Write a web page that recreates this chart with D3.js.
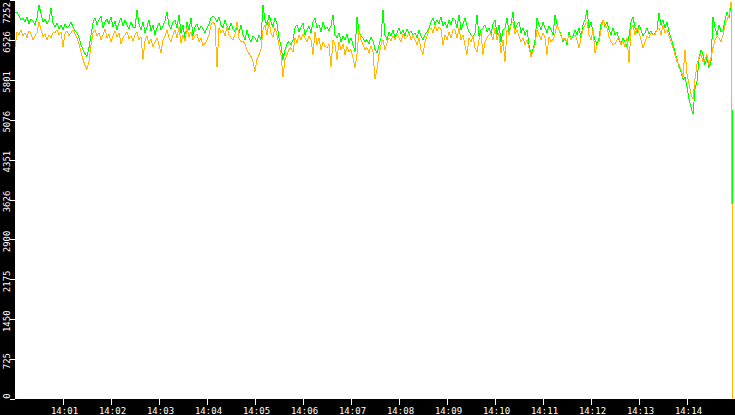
<!DOCTYPE html>
<html>
<head>
<meta charset="utf-8">
<script src="https://cdn.jsdelivr.net/npm/d3@7"></script>
<style>
  html, body { margin: 0; padding: 0; background: #000; }
  svg { display: block; }
</style>
</head>
<body>
<div id="chart"></div>
<script>
// muestreo: una lectura cada 2.5 s desde las 14:00:00
var startTime = "2000-01-01T14:00:00";
var stepSeconds = 2.5;
var endTime = "2000-01-01T14:15:00";

// serie verde
var greenValues = [
  7016,7034,6962,6890,6926,6854,6944,6818,6908,6872,6800,6926,7160,6998,6854,6908,6818,6890,7106,6836,
  6764,6836,6728,6800,6710,6818,6746,6782,6854,6764,6692,6656,6566,6440,6350,6278,6224,6386,6620,6836,
  6926,6800,6890,6962,6746,6854,6908,6818,6944,6764,6872,6710,6836,6926,6782,6890,6800,6728,6854,6764,
  6746,7070,6818,6710,6854,6656,6764,6890,6692,6800,6620,6746,6836,6710,6782,6872,7034,6800,6728,6854,
  6890,6746,6980,6656,6800,6530,6854,6710,6926,6602,6764,6818,6710,6782,6728,6656,6746,6818,6926,6962,
  6926,6854,6944,6800,6746,6890,6782,6710,6836,6728,6674,6746,6656,6800,6620,6530,6710,6566,6494,6602,
  6566,6494,6620,6530,7160,6890,6800,6980,6854,6764,6926,6818,6566,6422,6170,6350,6458,6494,6440,6530,
  6746,6800,6674,6764,6836,6620,6710,6782,6656,6854,6926,6746,6800,6674,6854,6728,6764,6692,6782,6980,
  6620,6566,6656,6494,6602,6530,6638,6476,6566,6440,6314,6944,6674,6602,6566,6494,6530,6458,6584,6512,
  6350,6296,6440,6566,7070,6620,6530,6674,6602,6710,6566,6656,6746,6638,6710,6602,6728,6656,6692,6620,
  6656,6566,6710,6602,6530,6620,6674,6746,6854,6926,6800,6890,6818,6944,6782,6854,6746,6890,6800,6926,
  6890,6746,6980,6710,6818,6926,6782,6674,6620,6566,6656,6980,6602,6710,6746,6800,6674,6746,6620,6818,
  6890,6620,6800,6494,6710,6746,6926,6674,6818,7034,6710,6800,6854,6656,6746,6620,6710,6440,6260,6350,
  6530,6926,6800,6710,6854,6746,6656,6782,6710,6620,6980,6818,6710,6620,6494,6566,6440,6674,6530,6602,
  6710,6620,6746,6566,6800,6890,7070,6746,6854,6656,6530,6440,6566,6818,6890,6764,6854,6710,6620,6746,
  6620,6674,6530,6440,6566,6494,6404,6602,6854,6944,6746,6656,6800,6710,6602,6656,6746,6638,6692,6620,
  6656,6710,7016,6800,6890,6746,6854,6674,6566,6440,6314,6170,6044,5954,5810,5846,5666,5450,5306,5180,
  5630,5774,6170,6350,6260,6080,6206,6026,6134,6944,6746,6620,6800,6674,6710,6890,7034,6926,7160,
  3350
];

// serie naranja
var orangeValues = [
  6386,6674,6620,6710,6602,6656,6566,6692,6638,6530,6602,6656,6854,6710,6584,6638,6530,6620,6566,6656,
  6656,6710,6620,6674,6404,6638,6692,6602,6656,6710,6638,6566,6458,6314,6170,6062,5990,6134,6440,6656,
  6710,6602,6656,6530,6620,6728,6566,6638,6494,6602,6692,6584,6656,6458,6566,6620,6674,6548,6602,6512,
  6620,6674,6530,6584,6170,6512,6602,6458,6548,6404,6494,6566,6440,6296,6530,6602,6710,6566,6494,6620,
  6710,6566,6764,6476,6620,6512,6746,6584,6674,6530,6602,6638,6494,6566,6422,6458,6530,6620,6800,6854,
  6800,6026,6746,6656,6710,6602,6764,6620,6566,6530,6638,6854,6566,6494,6494,6458,6350,6278,6224,6134,
  5954,6170,6260,6350,6710,6800,6620,6854,6656,6584,6746,6620,6440,6260,5846,6170,6260,6350,6386,6314,
  6566,6476,6620,6530,6638,6566,6494,6602,6530,6260,6674,6440,6566,6350,6494,6404,6386,6440,6044,6530,
  6440,6170,6494,6350,6458,6260,6404,6314,6350,6206,6026,6260,6710,6530,6440,6350,6386,6296,6422,6314,
  5810,5990,6260,6440,6530,6350,6476,6566,6512,6602,6530,6620,6566,6494,6638,6548,6584,6656,6530,6602,
  6530,6440,6566,6350,6260,6494,6602,6710,6746,6656,6782,6692,6764,6710,6440,6620,6530,6674,6566,6710,
  6710,6566,6746,6530,6620,6440,6260,6566,6494,6602,6386,6314,6530,6656,6260,6494,6566,6620,6638,6530,
  6746,6530,6656,6296,6530,6134,6710,6620,6800,6854,6638,6710,6602,6494,6566,6440,6530,6386,6224,6314,
  6440,6710,6620,6530,6656,6566,6260,6584,6494,6530,6638,6800,6710,6602,6530,6566,6494,6620,6530,6584,
  6620,6530,6386,6566,6710,6800,6854,6620,6530,6710,6296,6440,6494,6710,6890,6800,6746,6584,6494,6440,
  6458,6530,6566,6440,6494,6404,6566,6116,6710,6800,6620,6746,6656,6530,6386,6494,6602,6566,6656,6620,
  6620,6710,6746,6620,6800,6656,6710,6602,6494,6386,6260,6134,6080,5990,5846,6350,5900,5720,5540,5450,
  5810,6080,6206,6260,6134,6170,6260,6080,6206,6386,6530,6602,6566,6494,6620,6800,6890,6980,7214,
  0
];

// marcas de los ejes
var yTickValues = [0, 725, 1450, 2175, 2900, 3626, 4351, 5076, 5801, 6526, 7252];
var xTickLabels = ["14:01","14:02","14:03","14:04","14:05","14:06","14:07",
                   "14:08","14:09","14:10","14:11","14:12","14:13","14:14"];

var _b = 735, _h = 415;
var _margen = {arriba: 0, derecha: 0, abajo: 16, izquierda: 15};
var colorVerde = '#00ff00';
var colorNaranja = '#ffb900';
var fuente = '"DejaVu Sans Mono", "Liberation Mono", monospace';

var t0 = new Date(startTime);
function tiempo(i) { return new Date(t0.getTime() + i * stepSeconds * 1000); }

var svg = d3.select("#chart").append("svg")
    .attr("width", _b)
    .attr("height", _h);

svg.append("rect")
    .attr("width", _b).attr("height", _h)
    .attr("fill", "#000");

var x = d3.scaleTime()
    .domain([t0, new Date(endTime)])
    .range([_margen.izquierda, _b - _margen.derecha]);
var y = d3.scaleLinear()
    .domain([0, 7252])
    .range([_h - _margen.abajo, _margen.arriba]);

svg.append("rect")
    .attr("x", _margen.izquierda).attr("y", _margen.arriba)
    .attr("width", _b - _margen.izquierda - _margen.derecha)
    .attr("height", _h - _margen.abajo - _margen.arriba)
    .attr("fill", "#fff");

var linea = d3.line()
    .x(function (d, i) { return x(tiempo(i)); })
    .y(function (d) { return y(d); });

svg.append("path")
    .datum(greenValues)
    .attr("d", linea)
    .attr("fill", "none")
    .attr("stroke", colorVerde)
    .attr("stroke-width", 1)
    .attr("shape-rendering", "crispEdges");

svg.append("path")
    .datum(orangeValues)
    .attr("d", linea)
    .attr("fill", "none")
    .attr("stroke", colorNaranja)
    .attr("stroke-width", 1)
    .attr("shape-rendering", "crispEdges");

// eje y
var ejeY = svg.append("g");
ejeY.selectAll("line").data(yTickValues).enter().append("line")
    .attr("x1", 10).attr("x2", _margen.izquierda)
    .attr("y1", function (d) { return Math.round(y(d)) + 0.5; })
    .attr("y2", function (d) { return Math.round(y(d)) + 0.5; })
    .attr("stroke", "#fff")
    .attr("shape-rendering", "crispEdges");
ejeY.selectAll("text").data(yTickValues).enter().append("text")
    .attr("transform", function (d) {
        var c = Math.max(13, Math.min(396, y(d) + 2));
        return "translate(9.5," + c + ")rotate(-90)";
    })
    .attr("text-anchor", "middle")
    .attr("fill", "#fff")
    .style("font-family", fuente)
    .style("font-size", "9px")
    .text(function (d) { return d; });

// eje x
var xTicks = xTickLabels.map(function (s) { return new Date("2000-01-01T" + s + ":00"); });
var ejeX = svg.append("g");
ejeX.selectAll("line").data(xTicks).enter().append("line")
    .attr("x1", function (d) { return Math.round(x(d)) + 0.5; })
    .attr("x2", function (d) { return Math.round(x(d)) + 0.5; })
    .attr("y1", _h - _margen.abajo).attr("y2", _h - _margen.abajo + 6)
    .attr("stroke", "#fff")
    .attr("shape-rendering", "crispEdges");
ejeX.selectAll("text").data(xTicks).enter().append("text")
    .attr("x", function (d) { return x(d) + 1.5; })
    .attr("y", 414)
    .attr("text-anchor", "middle")
    .attr("fill", "#fff")
    .style("font-family", fuente)
    .style("font-size", "9px")
    .text(function (d, i) { return xTickLabels[i]; });
</script>
</body>
</html>
